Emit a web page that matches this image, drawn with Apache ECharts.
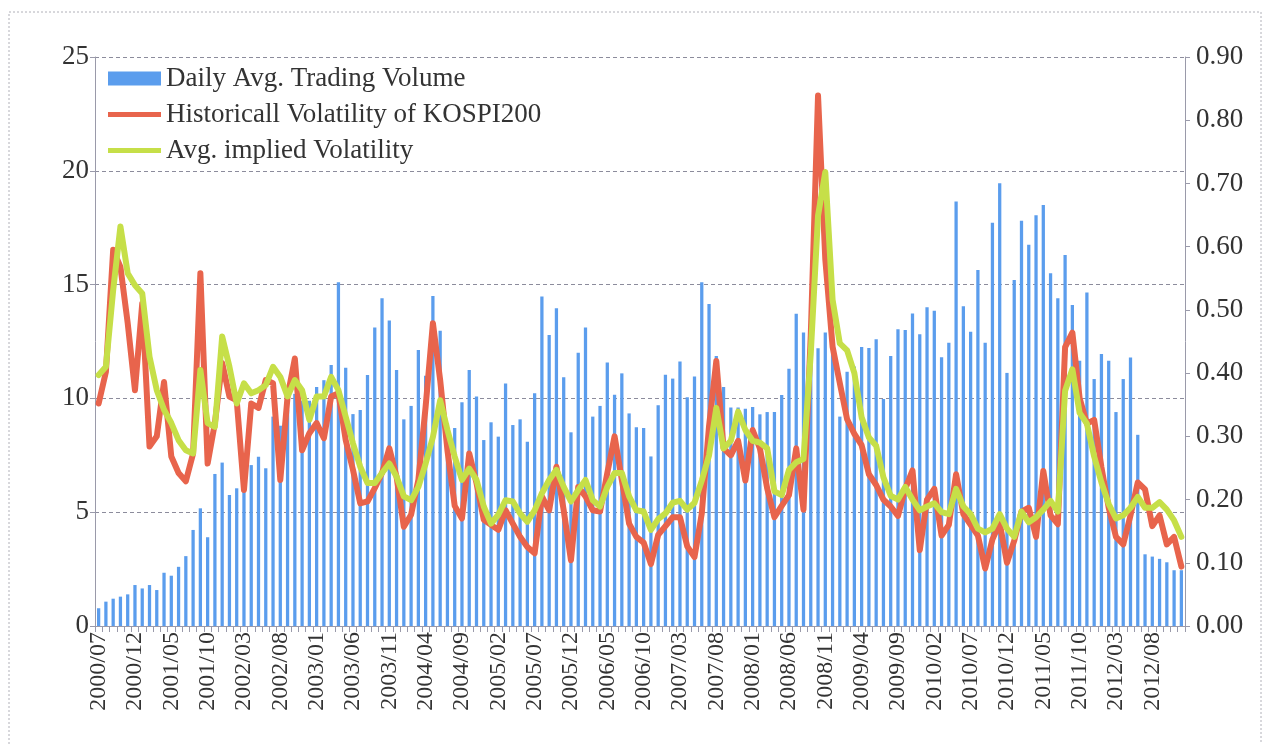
<!DOCTYPE html>
<html>
<head>
<meta charset="utf-8">
<script src="https://cdn.jsdelivr.net/npm/echarts@6/dist/echarts.min.js"></script>
<style>
  html, body { margin: 0; padding: 0; background: #fff; }
  #main { width: 1269px; height: 744px; }
</style>
</head>
<body>
<div id="main"></div>
<script>
// 月份：2000/07 ~ 2012/12
var months = [];
for (var y = 2000, m = 7; y < 2013; ) {
  months.push(y + '/' + (m < 10 ? '0' + m : m));
  m++;
  if (m > 12) { m = 1; y++; }
}

// 日平均成交量（左轴）
var volume = [
  0.78, 1.07, 1.2, 1.29, 1.39, 1.8, 1.65, 1.8, 1.58, 2.34,
  2.21, 2.6, 3.07, 4.22, 5.17, 3.9, 6.68, 7.18, 5.76, 6.05,
  6.4, 7.07, 7.44, 6.93, 9.2, 8.8, 9.5, 10.2, 9.9, 9.9,
  10.5, 10.8, 11.47, 15.1, 11.35, 9.31, 9.49, 11.03, 13.12, 14.4,
  13.42, 11.25, 9.08, 9.67, 12.13, 11.0, 14.5, 12.97, 8.9, 8.7,
  9.83, 11.25, 10.08, 8.17, 8.95, 8.32, 10.66, 8.83, 9.08, 8.1,
  10.23, 14.48, 12.79, 13.96, 10.93, 8.51, 12.01, 13.11, 9.2, 9.67,
  11.58, 10.16, 11.1, 9.34, 8.73, 8.7, 7.45, 9.7, 11.04, 10.87,
  11.62, 10.05, 10.96, 15.1, 14.15, 11.86, 10.5, 9.6, 9.6, 9.55,
  9.62, 9.3, 9.4, 9.4, 10.15, 11.3, 13.72, 12.9, 11.5, 12.2,
  12.9, 12.3, 9.2, 11.17, 11.4, 12.26, 12.21, 12.6, 9.97, 11.86,
  13.04, 13.01, 13.73, 12.82, 14.0, 13.85, 11.81, 12.45, 18.65, 14.05,
  12.93, 15.64, 12.45, 17.72, 19.45, 11.12, 15.2, 17.8, 16.75, 18.05,
  18.5, 15.5, 14.4, 16.3, 14.1, 11.65, 14.65, 10.85, 11.95, 11.65,
  9.4, 10.85, 11.8, 8.4, 3.15, 3.05, 2.95, 2.8, 2.45, 2.45
];

// KOSPI200 历史波动率（右轴）
var histVol = [
  0.352, 0.402, 0.595, 0.568, 0.479, 0.373, 0.51, 0.284, 0.30, 0.386,
  0.268, 0.242, 0.229, 0.273, 0.558, 0.257, 0.321, 0.416, 0.363, 0.357,
  0.215, 0.352, 0.345, 0.389, 0.384, 0.231, 0.363, 0.423, 0.278, 0.305,
  0.321, 0.297, 0.363, 0.368, 0.294, 0.247, 0.194, 0.197, 0.218, 0.242,
  0.281, 0.236, 0.157, 0.176, 0.231, 0.347, 0.479, 0.389, 0.278, 0.19,
  0.17, 0.273, 0.226, 0.168, 0.16, 0.152, 0.183, 0.162, 0.141, 0.125,
  0.115, 0.205, 0.183, 0.252, 0.183, 0.104, 0.22, 0.205, 0.183, 0.181,
  0.242, 0.30, 0.231, 0.162, 0.141, 0.132, 0.098, 0.144, 0.158, 0.172,
  0.172, 0.126, 0.109, 0.178, 0.316, 0.419, 0.281, 0.27, 0.293, 0.23,
  0.31, 0.281, 0.218, 0.172, 0.19, 0.207, 0.281, 0.184, 0.46, 0.839,
  0.58, 0.442, 0.384, 0.327, 0.304, 0.286, 0.24, 0.223, 0.20, 0.189,
  0.174, 0.217, 0.246, 0.12, 0.20, 0.217, 0.143, 0.16, 0.24, 0.177,
  0.16, 0.143, 0.091, 0.137, 0.163, 0.10, 0.135, 0.181, 0.187, 0.141,
  0.245, 0.175, 0.161, 0.441, 0.464, 0.36, 0.32, 0.326, 0.251, 0.187,
  0.141, 0.129, 0.175, 0.227, 0.216, 0.158, 0.175, 0.129, 0.141, 0.094
];

// 平均隐含波动率（右轴）
var impVol = [
  0.397, 0.41, 0.531, 0.632, 0.558, 0.539, 0.526, 0.426, 0.373, 0.342,
  0.321, 0.294, 0.278, 0.273, 0.405, 0.321, 0.315, 0.458, 0.41, 0.352,
  0.384, 0.368, 0.373, 0.381, 0.41, 0.394, 0.363, 0.389, 0.373, 0.326,
  0.363, 0.363, 0.394, 0.373, 0.331, 0.289, 0.252, 0.226, 0.226, 0.242,
  0.257, 0.236, 0.205, 0.199, 0.22, 0.257, 0.299, 0.357, 0.31, 0.268,
  0.231, 0.249, 0.231, 0.189, 0.162, 0.176, 0.199, 0.197, 0.178, 0.165,
  0.183, 0.21, 0.231, 0.247, 0.22, 0.197, 0.215, 0.231, 0.199, 0.189,
  0.22, 0.242, 0.242, 0.205, 0.183, 0.181, 0.152, 0.169, 0.178, 0.195,
  0.198, 0.184, 0.195, 0.23, 0.27, 0.345, 0.281, 0.293, 0.339, 0.31,
  0.293, 0.29, 0.281, 0.213, 0.207, 0.247, 0.259, 0.264, 0.431, 0.649,
  0.718, 0.516, 0.447, 0.436, 0.40, 0.33, 0.298, 0.285, 0.235, 0.206,
  0.20, 0.22, 0.20, 0.183, 0.189, 0.194, 0.18, 0.177, 0.217, 0.189,
  0.177, 0.154, 0.148, 0.154, 0.177, 0.154, 0.141, 0.181, 0.164, 0.172,
  0.184, 0.198, 0.181, 0.372, 0.406, 0.337, 0.32, 0.268, 0.227, 0.193,
  0.17, 0.175, 0.187, 0.204, 0.187, 0.187, 0.196, 0.184, 0.167, 0.141
];

var serif = 'Liberation Serif';
var axisGray = '#9a9aaa';
// 图例里的粗线条图标
var lineIcon = 'path://M0,0L53,0L53,5L0,5Z';

var myChart = echarts.init(document.getElementById('main'));
myChart.setOption({
  animation: false,
  backgroundColor: '#fff',
  graphic: [{
    type: 'rect',
    shape: { x: 9, y: 12, width: 1252, height: 740 },
    style: { fill: 'none', stroke: '#b0b0b8', lineWidth: 1, lineDash: [2, 2] },
    silent: true
  }],
  legend: {
    orient: 'vertical',
    left: 108,
    top: 65,
    padding: 0,
    itemWidth: 53,
    itemHeight: 14,
    itemGap: 9,
    symbolKeepAspect: true,
    textStyle: { fontFamily: serif, fontSize: 27, color: '#333' },
    data: [
      { name: 'Daily Avg. Trading Volume', icon: 'rect' },
      { name: 'Historicall Volatility of KOSPI200', icon: lineIcon },
      { name: 'Avg. implied Volatility', icon: lineIcon }
    ]
  },
  grid: { left: 95, right: 84, top: 57, bottom: 118 },
  xAxis: {
    type: 'category',
    data: months,
    axisLine: { lineStyle: { color: axisGray, width: 1 } },
    axisTick: { show: true, interval: 0, length: 6, lineStyle: { color: axisGray } },
    axisLabel: {
      interval: 4,
      rotate: 90,
      margin: 6,
      fontFamily: serif,
      fontSize: 24,
      color: '#333'
    },
    splitLine: { show: false }
  },
  yAxis: [{
    type: 'value',
    min: 0,
    max: 25,
    interval: 5,
    axisLine: { show: true, lineStyle: { color: axisGray } },
    axisTick: { show: true, length: 5, lineStyle: { color: axisGray } },
    axisLabel: { margin: 6, fontFamily: serif, fontSize: 27, color: '#333' },
    splitLine: { show: true, lineStyle: { color: '#8c8c9c', type: [4, 3], width: 1 } } //虚线网格
  }, {
    type: 'value',
    position: 'right',
    min: 0,
    max: 0.9,
    interval: 0.1,
    axisLine: { show: true, lineStyle: { color: axisGray } },
    axisTick: { show: true, length: 5, lineStyle: { color: axisGray } },
    axisLabel: {
      margin: 11,
      fontFamily: serif,
      fontSize: 27,
      color: '#333',
      formatter: function (v) { return v.toFixed(2); }
    },
    splitLine: { show: false }
  }],
  series: [{
    name: 'Daily Avg. Trading Volume',
    type: 'bar',
    yAxisIndex: 0,
    barWidth: '45%',
    itemStyle: { color: '#5b9ded' },
    data: volume
  }, {
    name: 'Historicall Volatility of KOSPI200',
    type: 'line',
    yAxisIndex: 1,
    symbol: 'none',
    z: 3,
    itemStyle: { color: '#e8644c' },
    lineStyle: { color: '#e8644c', width: 6, cap: 'round', join: 'round' },
    data: histVol
  }, {
    name: 'Avg. implied Volatility',
    type: 'line',
    yAxisIndex: 1,
    symbol: 'none',
    z: 4,
    itemStyle: { color: '#c6df48' },
    lineStyle: { color: '#c6df48', width: 6, cap: 'round', join: 'round' },
    data: impVol
  }]
});
</script>
</body>
</html>
